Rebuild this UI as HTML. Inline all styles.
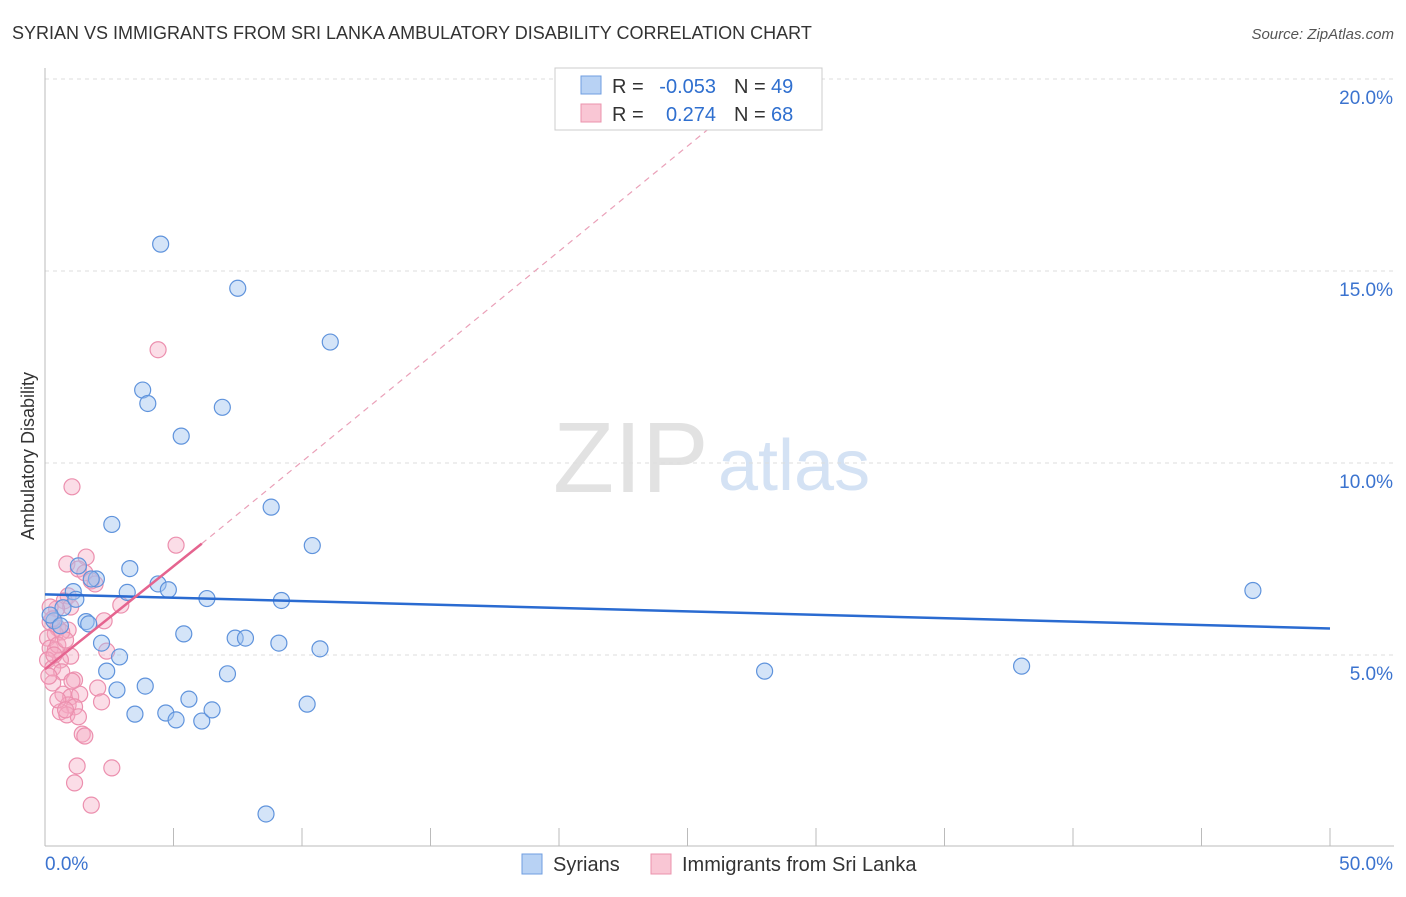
<!DOCTYPE html>
<html><head><meta charset="utf-8"><style>
body{margin:0;background:#fff;font-family:"Liberation Sans",sans-serif}
svg text{font-family:"Liberation Sans",sans-serif}
</style></head><body>
<svg width="1406" height="892">
<text x="12" y="39" font-size="18" fill="#333">SYRIAN VS IMMIGRANTS FROM SRI LANKA AMBULATORY DISABILITY CORRELATION CHART</text>
<text x="1394" y="39" font-size="15" fill="#555" font-style="italic" text-anchor="end">Source: ZipAtlas.com</text>
<text x="553" y="492" font-size="100" fill="#e2e2e2" font-family="Liberation Serif">ZIP</text>
<text x="718" y="490" font-size="72" fill="#d4e2f4">atlas</text>
<g id="grid"></g>
<g id="axes"></g>
<text transform="translate(34,456) rotate(-90)" font-size="18" fill="#333" text-anchor="middle">Ambulatory Disability</text>
<g id="marks"></g>
<g>
<rect x="555" y="68" width="267" height="62" fill="#fff" stroke="#ccc"/>
<rect x="581" y="76" width="20" height="18" fill="#b8d2f4" stroke="#6f9ee0"/>
<rect x="581" y="104" width="20" height="18" fill="#f9c6d4" stroke="#eb93ad"/>
<text x="612" y="93" font-size="20" fill="#333">R =</text>
<text x="716" y="93" font-size="20" fill="#2f6fcf" text-anchor="end">-0.053</text>
<text x="734" y="93" font-size="20" fill="#333">N =</text>
<text x="771" y="93" font-size="20" fill="#2f6fcf">49</text>
<text x="612" y="121" font-size="20" fill="#333">R =</text>
<text x="716" y="121" font-size="20" fill="#2f6fcf" text-anchor="end">0.274</text>
<text x="734" y="121" font-size="20" fill="#333">N =</text>
<text x="771" y="121" font-size="20" fill="#2f6fcf">68</text>
</g>
<g>
<rect x="522" y="854" width="20" height="20" fill="#b8d2f4" stroke="#6f9ee0"/>
<text x="553" y="871" font-size="20" fill="#333">Syrians</text>
<rect x="651" y="854" width="20" height="20" fill="#f9c6d4" stroke="#eb93ad"/>
<text x="682" y="871" font-size="20" fill="#333">Immigrants from Sri Lanka</text>
</g>
</svg>
<script>
const xTicks=[0,5,10,15,20,25,30,35,40,45,50];
const yTicks=[5,10,15,20];
const syrX=[4.5,7.5,11.1,3.8,4.0,6.9,5.3,8.8,2.6,10.4,3.3,2.0,4.4,4.8,3.2,1.1,6.3,9.2,1.6,1.7,0.35,5.4,7.4,7.8,9.1,10.7,2.2,2.9,2.4,7.1,28.0,38.0,47.0,3.9,2.8,5.6,10.2,3.5,4.7,5.1,6.1,6.5,8.6,1.8,1.3,0.7,0.2,0.6,1.2];
const syrY=[15.7,14.55,13.15,11.9,11.55,11.45,10.7,8.85,8.4,7.85,7.25,6.98,6.85,6.7,6.63,6.65,6.47,6.42,5.87,5.81,5.89,5.55,5.44,5.44,5.31,5.16,5.31,4.95,4.58,4.51,4.58,4.71,6.68,4.19,4.09,3.85,3.72,3.46,3.49,3.31,3.28,3.57,0.86,6.98,7.32,6.23,6.04,5.76,6.45];
const lkX=[4.4,1.05,5.1,1.6,0.85,1.3,1.55,1.8,1.95,0.9,2.95,0.75,1.0,0.45,2.3,0.2,0.5,0.9,0.4,0.65,0.1,0.2,0.4,1.0,0.6,2.4,0.1,0.3,0.65,1.15,0.3,2.05,0.7,1.0,1.35,0.9,1.15,2.2,0.6,0.85,1.3,1.45,1.55,1.25,2.6,1.15,1.8,0.2,0.3,0.5,0.8,1.05,0.5,0.8,0.35,0.15];
const lkY=[12.95,9.38,7.86,7.55,7.37,7.24,7.14,6.93,6.85,6.54,6.30,6.41,6.25,6.20,5.89,5.86,5.70,5.65,5.55,5.60,5.44,5.18,5.13,4.97,4.87,5.10,4.87,4.66,4.56,4.35,4.27,4.14,3.98,3.91,3.98,3.70,3.65,3.78,3.52,3.44,3.39,2.94,2.89,2.11,2.06,1.67,1.09,6.25,5.94,5.26,5.39,4.32,3.83,3.57,5.0,4.45];
const X0=45,X1=1330,Y0=847,YK=192/5;
const sx=v=>X0+v/50*(X1-X0), sy=v=>Y0-v*YK;
const NS='http://www.w3.org/2000/svg';
function mk(p,t,a){const e=document.createElementNS(NS,t);for(const k in a)e.setAttribute(k,a[k]);p.appendChild(e);return e;}
const grid=document.getElementById('grid'),axes=document.getElementById('axes'),marks=document.getElementById('marks');
yTicks.forEach(v=>{const l=mk(grid,'line',{x1:45,x2:1394,y1:sy(v),y2:sy(v),stroke:'#ddd','stroke-dasharray':'4,4'});

const t=mk(axes,'text',{x:1393,y:sy(v)+25,'font-size':19,fill:'#3b73cf','text-anchor':'end'});t.textContent=v.toFixed(1)+'%';
});
const la=mk(axes,'line',{x1:45,x2:45,y1:68,y2:846,stroke:'#bbb'});
const ba=mk(axes,'line',{x1:45,x2:1394,y1:846,y2:846,stroke:'#bbb'});
xTicks.forEach(v=>{const l=mk(axes,'line',{x1:sx(v),x2:sx(v),y1:828,y2:846,stroke:'#bbb'});});
[[0,'start',45],[50,'end',1393]].forEach(([v,a,x])=>{const t=mk(axes,'text',{x:x,y:870,'font-size':19,fill:'#3b73cf','text-anchor':a});t.textContent=v.toFixed(1)+'%';
});
lkX.forEach((v,i)=>{const c=mk(marks,'circle',{cx:sx(v),cy:sy(lkY[i]),r:8,fill:'rgba(246,170,195,0.4)',stroke:'#ec8fae','stroke-width':1.2});
});
syrX.forEach((v,i)=>{const c=mk(marks,'circle',{cx:sx(v),cy:sy(syrY[i]),r:8,fill:'rgba(160,196,240,0.45)',stroke:'#5f93dc','stroke-width':1.2});
});
const bl=mk(marks,'line',{x1:sx(0),y1:sy(6.58),x2:sx(50),y2:sy(5.69),stroke:'#2a6bd1','stroke-width':2.5});

const pd=mk(marks,'line',{x1:sx(6.1),y1:sy(7.9),x2:sx(26),y2:sy(18.8),stroke:'#eaa0b8','stroke-width':1.2,'stroke-dasharray':'6,5'});

const pl=mk(marks,'line',{x1:sx(0),y1:sy(4.63),x2:sx(6.1),y2:sy(7.9),stroke:'#e5648f','stroke-width':2.5});

</script>
</body></html>
